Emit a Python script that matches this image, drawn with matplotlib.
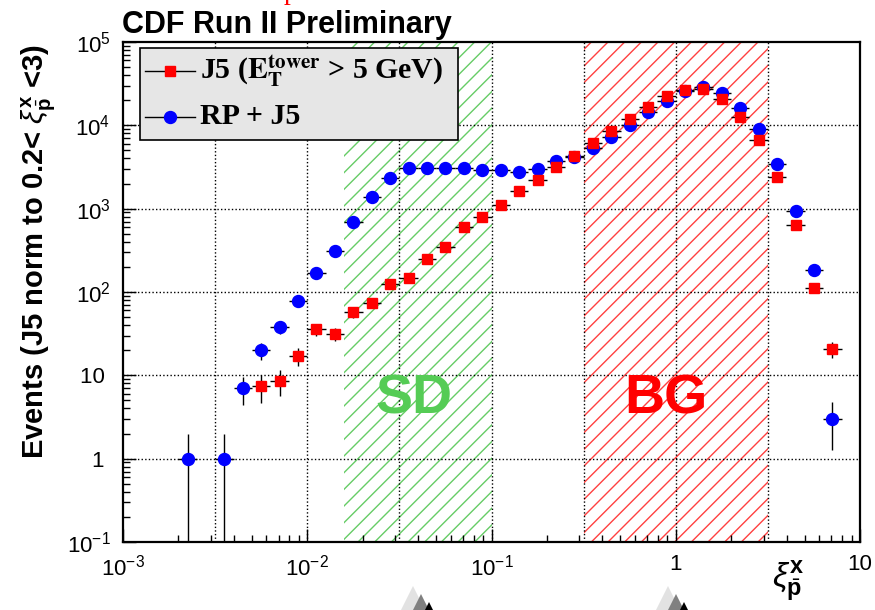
import numpy as np
import matplotlib
matplotlib.use("Agg")
import matplotlib.pyplot as plt
import matplotlib.ticker as mticker
from matplotlib.lines import Line2D
from matplotlib.patches import Rectangle, Polygon
from matplotlib.font_manager import FontProperties

plt.rcParams["font.family"] = ["Liberation Sans", "DejaVu Sans"]
plt.rcParams["mathtext.fontset"] = "custom"
plt.rcParams["mathtext.rm"] = "Liberation Sans"
plt.rcParams["mathtext.it"] = "Liberation Sans:italic"
plt.rcParams["mathtext.bf"] = "Liberation Sans:bold"
plt.rcParams["hatch.linewidth"] = 1.0

# log10 of the xi bin centres (bins are 0.1 wide in log10)
log_xi = [-2.65, -2.55, -2.45, -2.35, -2.25, -2.15, -2.05, -1.95, -1.85, -1.75,
          -1.65, -1.55, -1.45, -1.35, -1.25, -1.15, -1.05, -0.95, -0.85, -0.75,
          -0.65, -0.55, -0.45, -0.35, -0.25, -0.15, -0.05, 0.05, 0.15, 0.25,
          0.35, 0.45, 0.55, 0.65, 0.75, 0.85]
half_bin = 0.05

# RP + J5 (blue circles)
rp_j5 = [1.0, np.nan, 1.0, 7.0, 19.9, 37.6, 77.6, 168, 309, 692,
         1368, 2345, 3060, 3060, 3060, 3060, 2870, 2870, 2755, 3020,
         3760, 4150, 5380, 7160, 10100, 14350, 19800, 25500, 28500, 24300,
         16300, 8950, 3480, 946, 184, 3.0]

# J5, E_T^tower > 5 GeV (red squares)
j5 = [np.nan, np.nan, np.nan, np.nan, 7.4, 8.6, 16.9, 35.5, 31.5, 56.9,
      74.3, 126, 146, 250, 342, 602, 787, 1097, 1633, 2234,
      3180, 4270, 6070, 8510, 11900, 16800, 22200, 26700, 27200, 20700,
      12600, 6650, 2410, 637, 113, 20.6]

x_ticks = [1e-3, 1e-2, 1e-1, 1, 10]
x_tick_labels = [r"$10^{-3}$", r"$10^{-2}$", r"$10^{-1}$", "1", "10"]
y_ticks = [1e-1, 1, 10, 1e2, 1e3, 1e4, 1e5]
y_tick_labels = [r"$10^{-1}$", "1 ", "10 ", r"$10^{2}$", r"$10^{3}$", r"$10^{4}$", r"$10^{5}$"]

sd_range = (10 ** -1.8, 10 ** -1.0)
bg_range = (10 ** -0.5, 10 ** 0.5)

RED = "#ff0000"
BLUE = "#0000ff"

fig = plt.figure(figsize=(8.75, 6.1), dpi=100)
ax = fig.add_axes([0.1406, 0.1115, 0.8423, 0.8197])
ax.set_xscale("log")
ax.set_yscale("log")
ax.set_xlim(1e-3, 10)
ax.set_ylim(0.1, 1e5)

# hatched SD / BG regions
ax.axvspan(*sd_range, facecolor="none", edgecolor="#66cc66", hatch="//", lw=0, zorder=0.5)
ax.axvspan(*bg_range, facecolor="none", edgecolor="#ff4040", hatch="//", lw=0, zorder=0.5)

# dotted grid (ROOT style, half decades in x)
dot = (0, (1.0, 1.6))
for gx in 10 ** np.arange(-2.5, 0.6, 0.5):
    ax.axvline(gx, color="black", lw=1.0, ls=dot, zorder=1)
for gy in [1, 10, 1e2, 1e3, 1e4]:
    ax.axhline(gy, color="black", lw=1.0, ls=dot, zorder=1)


def draw_series(yvals, marker, ms, color):
    lx = np.array(log_xi)
    y = np.array(yvals, dtype=float)
    ok = np.isfinite(y)
    lx, y = lx[ok], y[ok]
    x = 10 ** lx
    xerr = [x - 10 ** (lx - half_bin), 10 ** (lx + half_bin) - x]
    ax.errorbar(x, y, yerr=np.sqrt(y), xerr=xerr, fmt="none",
                ecolor="black", elinewidth=1.0, capsize=0, zorder=2)
    ax.plot(x, y, ls="none", marker=marker, ms=ms, color=color, mec=color, zorder=3)


draw_series(rp_j5, "o", 8.6, BLUE)
draw_series(j5, "s", 7.5, RED)

# region labels
ax.text(0.395, 0.285, "SD", transform=ax.transAxes, ha="center", va="center",
        fontsize=40, fontweight="bold", color="#55cc55", zorder=1.5)
ax.text(0.737, 0.285, "BG", transform=ax.transAxes, ha="center", va="center",
        fontsize=40, fontweight="bold", color=RED, zorder=1.5)

# axes styling
ax.set_xticks(x_ticks)
ax.set_xticklabels(x_tick_labels)
ax.set_yticks(y_ticks)
ax.set_yticklabels(y_tick_labels)
for axis in (ax.xaxis, ax.yaxis):
    axis.set_minor_locator(mticker.LogLocator(base=10, subs=np.arange(2, 10), numticks=100))
    axis.set_minor_formatter(mticker.NullFormatter())
ax.tick_params(which="both", direction="in", top=False, right=False, width=1.0, colors="black")
ax.tick_params(which="major", length=9.5, labelsize=16)
ax.tick_params(which="minor", length=5)
ax.tick_params(axis="x", which="major", pad=9)
ax.tick_params(axis="y", which="major", pad=9)
for sp in ax.spines.values():
    sp.set_linewidth(1.6)

# legend (drawn by hand, ROOT TLegend look)
ax.add_patch(Rectangle((0.023, 0.804), 0.4315, 0.184, transform=ax.transAxes,
                       facecolor="#e6e6e6", edgecolor="black", lw=1.2, zorder=10, clip_on=False))
leg_font = FontProperties(family="Liberation Serif", weight="bold", size=21.5, math_fontfamily="stix")
entries = [
    (0.942, "s", 7.5, RED, r"J5 ($\mathbf{E}_\mathbf{T}^\mathbf{tower}$ > 5 GeV)"),
    (0.850, "o", 8.6, BLUE, "RP + J5"),
]
for ly, mk, ms, col, label in entries:
    ax.add_line(Line2D([0.0298, 0.0977], [ly, ly], transform=ax.transAxes,
                       color="black", lw=1.0, zorder=11))
    ax.plot([0.0638], [ly], transform=ax.transAxes, marker=mk, ms=ms,
            color=col, mec=col, ls="none", zorder=12)
    ax.text(0.1045, ly, label, transform=ax.transAxes, ha="left", va="center",
            fontproperties=leg_font, zorder=12)

# title, axis labels
fig.text(122 / 875, 1 - 33 / 610, "CDF Run II Preliminary", ha="left", va="baseline",
         fontsize=22, fontweight="bold")
fig.text(39 / 875, 1 - 252 / 610,
         r"Events (J5 norm to 0.2< $\xi^{\mathbf{x}}_{\bar{\mathbf{p}}}$ <3)",
         rotation=90, ha="center", va="center", fontsize=21, fontweight="bold")
fig.text(772 / 875, 1 - 582 / 610, r"$\xi^{\mathbf{x}}_{\bar{\mathbf{p}}}$",
         ha="left", va="center", fontsize=24)

# cut-off red glyph at the very top edge
fig.text(284 / 875, 1 + 1 / 610, "p", ha="left", va="baseline", color=RED,
         fontsize=20, family="Liberation Serif")

# cut-off logo triangles at the bottom edge
for dx in (0, 255):
    for apex_x, apex_y, col in [(413, 586, "#e2e2e2"), (421, 594, "#808080"), (429, 602, "black")]:
        ax_x = apex_x + dx
        pts = [(ax_x, apex_y), (ax_x - 15, apex_y + 30), (ax_x + 15, apex_y + 30)]
        fig.add_artist(Polygon([(px / 875, 1 - py / 610) for px, py in pts],
                               closed=True, transform=fig.transFigure,
                               facecolor=col, edgecolor="none"))

fig.savefig("out.png", dpi=100)
